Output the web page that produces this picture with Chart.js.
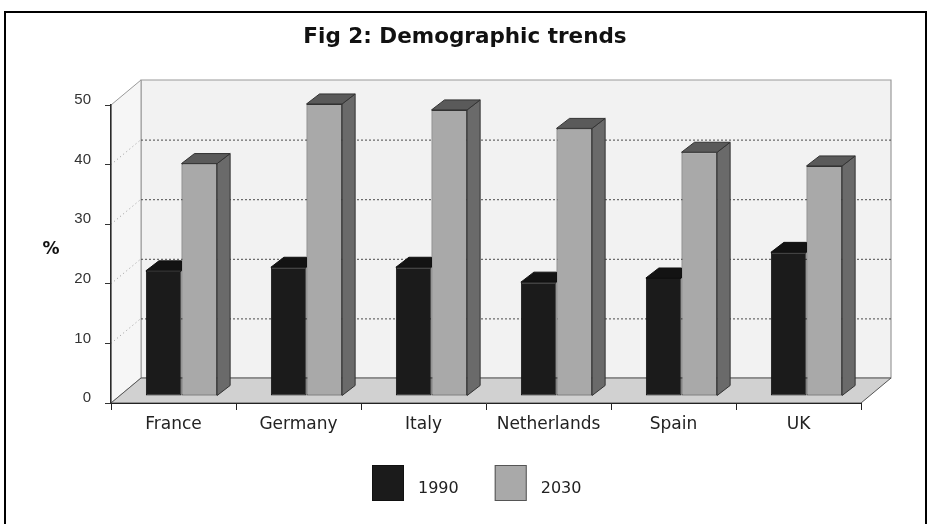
<!DOCTYPE html>
<html>
<head>
<meta charset="utf-8">
<script src="https://cdn.jsdelivr.net/npm/chart.js@4.4.1/dist/chart.umd.min.js"></script>
<style>
  html, body { margin: 0; padding: 0; background: #ffffff; }
  canvas { display: block; }
</style>
</head>
<body>
<canvas id="c" width="930" height="524"></canvas>
<script>
// ---- data ----
const categories = ['France', 'Germany', 'Italy', 'Netherlands', 'Spain', 'UK'];
const values1990 = [21.0, 21.6, 21.6, 19.1, 19.8, 24.1];
const values2030 = [39.0, 49.0, 48.0, 44.9, 40.9, 38.6];
const seriesLabels = ['1990', '2030'];
const chartTitle = 'Fig 2: Demographic trends';
const yAxisLabel = '%';
const yMin = 0, yMax = 50, yStep = 10;

// ---- style ----
const FONT = 'DejaVu Sans';
const TICK_FONT = 'Liberation Sans';
const WALL = { dx: 30, dy: -25 };      // depth of the 3D box
const BAR_SHIFT = { dx: 8, dy: -7 };   // bar front plane behind front edge
const BAR_DEPTH = { dx: 13, dy: -10 }; // depth of each bar

function poly(ctx, pts, fill, stroke, lw) {
  ctx.beginPath();
  ctx.moveTo(pts[0][0], pts[0][1]);
  for (let i = 1; i < pts.length; i++) ctx.lineTo(pts[i][0], pts[i][1]);
  ctx.closePath();
  if (fill) { ctx.fillStyle = fill; ctx.fill(); }
  if (stroke) { ctx.strokeStyle = stroke; ctx.lineWidth = lw || 1; ctx.stroke(); }
}

const boxPlugin = {
  id: 'box3d',
  beforeDraw(chart) {
    const ctx = chart.ctx;
    const ys = chart.scales.y;
    const L = chart.chartArea.left, R = chart.chartArea.right;
    const y0 = ys.getPixelForValue(yMin), yT = ys.getPixelForValue(yMax);
    const dx = WALL.dx, dy = WALL.dy;
    ctx.save();
    ctx.fillStyle = '#ffffff';
    ctx.fillRect(0, 0, chart.width, chart.height);
    // frame
    ctx.strokeStyle = '#000';
    ctx.lineWidth = 2;
    ctx.strokeRect(5, 12, 921, 600);
    // back wall
    poly(ctx, [[L + dx, yT + dy], [R + dx, yT + dy], [R + dx, y0 + dy], [L + dx, y0 + dy]], '#f2f2f2', '#9a9a9a', 1.2);
    // left wall
    poly(ctx, [[L, yT], [L + dx, yT + dy], [L + dx, y0 + dy], [L, y0]], '#f6f6f6', '#9a9a9a', 1);
    // floor
    poly(ctx, [[L, y0], [L + dx, y0 + dy], [R + dx, y0 + dy], [R, y0]], '#d1d1d1', '#555555', 1);
    // gridlines
    ys.ticks.forEach(t => {
      if (t.value <= yMin || t.value >= yMax) return;
      const y = ys.getPixelForValue(t.value);
      ctx.setLineDash([2, 2]);
      ctx.strokeStyle = '#4a4a4a';
      ctx.lineWidth = 1;
      ctx.beginPath();
      ctx.moveTo(L + dx, y + dy + 0.5);
      ctx.lineTo(R + dx, y + dy + 0.5);
      ctx.stroke();
      ctx.setLineDash([1, 3]);
      ctx.strokeStyle = '#9a9a9a';
      ctx.beginPath();
      ctx.moveTo(L, y);
      ctx.lineTo(L + dx, y + dy);
      ctx.stroke();
    });
    ctx.setLineDash([]);
    ctx.restore();
  },
  beforeDatasetsDraw(chart) {
    chart.ctx.save();
    chart.ctx.translate(BAR_SHIFT.dx, BAR_SHIFT.dy);
  },
  afterDatasetsDraw(chart) {
    const ctx = chart.ctx;
    const bx = BAR_DEPTH.dx, by = BAR_DEPTH.dy;
    const meta0 = chart.getDatasetMeta(0), meta1 = chart.getDatasetMeta(1);
    // 1990 tops (the part not hidden by the taller 2030 bar)
    meta0.data.forEach(b => {
      const l = b.x - b.width / 2, r = b.x + b.width / 2;
      poly(ctx, [[l, b.y], [l + bx, b.y + by], [r, b.y + by], [r, b.y]], '#131313', '#111', 1);
    });
    // 2030 tops and sides
    meta1.data.forEach(b => {
      const l = b.x - b.width / 2, r = b.x + b.width / 2;
      poly(ctx, [[r, b.y], [r + bx, b.y + by], [r + bx, b.base + by], [r, b.base]], '#6a6a6a', '#333', 1);
      poly(ctx, [[l, b.y], [l + bx, b.y + by], [r + bx, b.y + by], [r, b.y]], '#5a5a5a', '#333', 1);
    });
    ctx.restore();
  },
  afterDraw(chart) {
    const ctx = chart.ctx;
    ctx.save();
    // title
    ctx.font = 'bold 21.5px "' + FONT + '"';
    ctx.fillStyle = '#111';
    ctx.textAlign = 'center';
    ctx.textBaseline = 'alphabetic';
    ctx.fillText(chartTitle, chart.width / 2, 43);
    // axis label
    ctx.font = 'bold 17px "' + FONT + '"';
    ctx.textBaseline = 'middle';
    ctx.fillText(yAxisLabel, 51, 250);
    // legend
    ctx.font = '16px "' + FONT + '"';
    ctx.textAlign = 'left';
    let x = 372;
    const top = 465;
    chart.data.datasets.forEach(ds => {
      ctx.fillStyle = ds.backgroundColor;
      ctx.fillRect(x, top, 32, 36);
      ctx.strokeStyle = ds.legendBorder;
      ctx.lineWidth = 1;
      ctx.strokeRect(x + 0.5, top + 0.5, 31, 35);
      ctx.fillStyle = '#222';
      ctx.fillText(ds.label, x + 46, top + 24);
      x += 46 + ctx.measureText(ds.label).width + 36;
    });
    ctx.restore();
  }
};

new Chart(document.getElementById('c'), {
  type: 'bar',
  data: {
    labels: categories,
    datasets: [
      { label: seriesLabels[0], data: values1990, backgroundColor: '#1b1b1b', borderColor: '#111111',
        borderWidth: 1, borderSkipped: false, legendBorder: '#111', clip: false },
      { label: seriesLabels[1], data: values2030, backgroundColor: '#a9a9a9', borderColor: '#333333',
        borderWidth: 1, borderSkipped: false, legendBorder: '#555', clip: false }
    ]
  },
  options: {
    responsive: false,
    animation: false,
    devicePixelRatio: 1,
    layout: { padding: { top: 105, left: 51, right: 69, bottom: 71 } },
    datasets: { bar: { categoryPercentage: 0.57, barPercentage: 1.0 } },
    plugins: {
      legend: { display: false },
      tooltip: { enabled: false },
      title: { display: false }
    },
    scales: {
      x: {
        type: 'category',
        offset: true,
        afterFit: s => { s.height = 50; },
        grid: { offset: true, drawOnChartArea: false, drawTicks: true, tickLength: 7, color: '#222', lineWidth: 1 },
        border: { display: true, color: '#222', width: 1 },
        ticks: { font: { family: FONT, size: 17 }, color: '#222', padding: 4, maxRotation: 0 }
      },
      y: {
        min: yMin, max: yMax,
        afterFit: s => { s.width = 60; },
        grid: { drawOnChartArea: false, drawTicks: true, tickLength: 6, color: '#333', lineWidth: 1 },
        border: { display: true, color: '#2a2a2a', width: 1.5 },
        ticks: { stepSize: yStep, font: { family: TICK_FONT, size: 15 }, color: '#333', padding: 14, labelOffset: -5 }
      }
    }
  },
  plugins: [boxPlugin]
});
</script>
</body>
</html>
